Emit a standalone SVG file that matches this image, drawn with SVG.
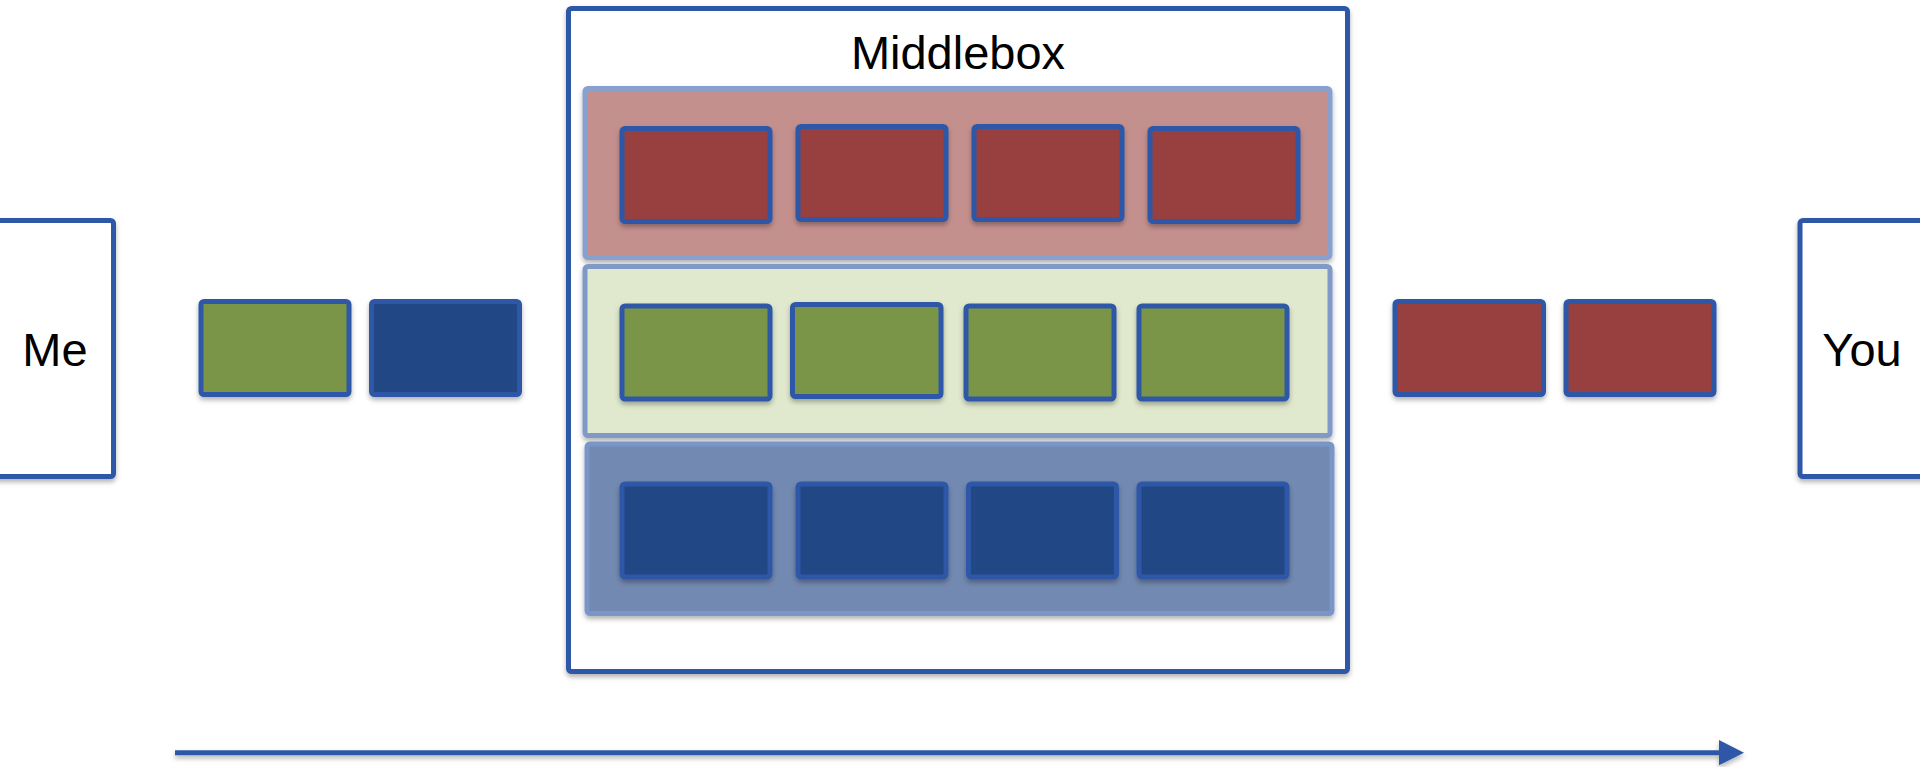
<svg xmlns="http://www.w3.org/2000/svg" width="1920" height="767" viewBox="0 0 1920 767">
  <defs>
    <filter id="shadow" x="-10%" y="-10%" width="120%" height="130%">
      <feDropShadow dx="0" dy="3" stdDeviation="2.5" flood-color="#000" flood-opacity="0.3"/>
    </filter>
    <style>
      .frame { fill: #ffffff; stroke: #2d59a7; stroke-width: 5; filter: url(#shadow); }
      .pkt { stroke: #2d59a7; stroke-width: 5; filter: url(#shadow); }
      .red { fill: #983f3f; }
      .green { fill: #7a9547; }
      .blue { fill: #234785; }
      .band { stroke-width: 5; filter: url(#shadow); }
      .label { font-family: "Liberation Sans", Arial, sans-serif; font-size: 47px; fill: #000; text-anchor: middle; }
      .conn { stroke: #2d59a7; stroke-width: 5; fill: none; }
    </style>
  </defs>

  <rect width="1920" height="767" fill="#ffffff"/>

  <!-- Endpoints -->
  <g id="me">
    <rect class="frame" x="-10" y="220.5" width="123.5" height="256" rx="3"/>
    <text class="label" x="55" y="366">Me</text>
  </g>
  <g id="you">
    <rect class="frame" x="1800" y="220.5" width="140" height="256" rx="3"/>
    <text class="label" x="1862" y="366">You</text>
  </g>

  <!-- Incoming packets -->
  <g id="in-green"><rect class="pkt green" x="201" y="301.5" width="148" height="93" rx="3"/></g>
  <g id="in-blue"><rect class="pkt blue" x="371.5" y="301.5" width="148" height="93" rx="3"/></g>

  <!-- Middlebox with per-flow queues -->
  <g id="middlebox">
    <rect class="frame" x="568.5" y="8.5" width="779" height="663" rx="3"/>
    <text class="label" x="958" y="69">Middlebox</text>
  </g>

  <g id="queue-red">
    <rect class="band" x="585" y="88.5" width="745" height="169" rx="3" fill="#c4908e" stroke="#87a0cd"/>
    <rect class="pkt red" x="622" y="128.5" width="148" height="93" rx="3"/>
    <rect class="pkt red" x="798" y="126.5" width="148" height="93" rx="3"/>
    <rect class="pkt red" x="974" y="126.5" width="148" height="93" rx="3"/>
    <rect class="pkt red" x="1150" y="128.5" width="148" height="93" rx="3"/>
  </g>

  <g id="queue-green">
    <rect class="band" x="585" y="266.5" width="745" height="169" rx="3" fill="#e0e9cd" stroke="#7f99c9"/>
    <rect class="pkt green" x="622" y="306" width="148" height="93" rx="3"/>
    <rect class="pkt green" x="792.5" y="304.5" width="148.5" height="92" rx="3"/>
    <rect class="pkt green" x="966" y="306" width="148" height="93" rx="3"/>
    <rect class="pkt green" x="1139" y="306" width="148" height="93" rx="3"/>
  </g>

  <g id="queue-blue">
    <rect class="band" x="587" y="444" width="745" height="169.5" rx="3" fill="#7289b1" stroke="#7a95c8"/>
    <rect class="pkt blue" x="622" y="484" width="148" height="93" rx="3"/>
    <rect class="pkt blue" x="798" y="484" width="148" height="93" rx="3"/>
    <rect class="pkt blue" x="968.5" y="484" width="148" height="93" rx="3"/>
    <rect class="pkt blue" x="1139" y="484" width="148" height="93" rx="3"/>
  </g>

  <!-- Outgoing packets -->
  <g id="out-red-1"><rect class="pkt red" x="1395" y="301.5" width="148.5" height="93" rx="3"/></g>
  <g id="out-red-2"><rect class="pkt red" x="1566" y="301.5" width="148" height="93" rx="3"/></g>

  <!-- Direction of flow -->
  <g id="connectors" filter="url(#shadow)">
    <line class="conn" x1="175" y1="752.7" x2="1722" y2="752.7"/>
    <polygon points="1719,740 1744,752.7 1719,765.3" fill="#2d59a7"/>
  </g>
</svg>
